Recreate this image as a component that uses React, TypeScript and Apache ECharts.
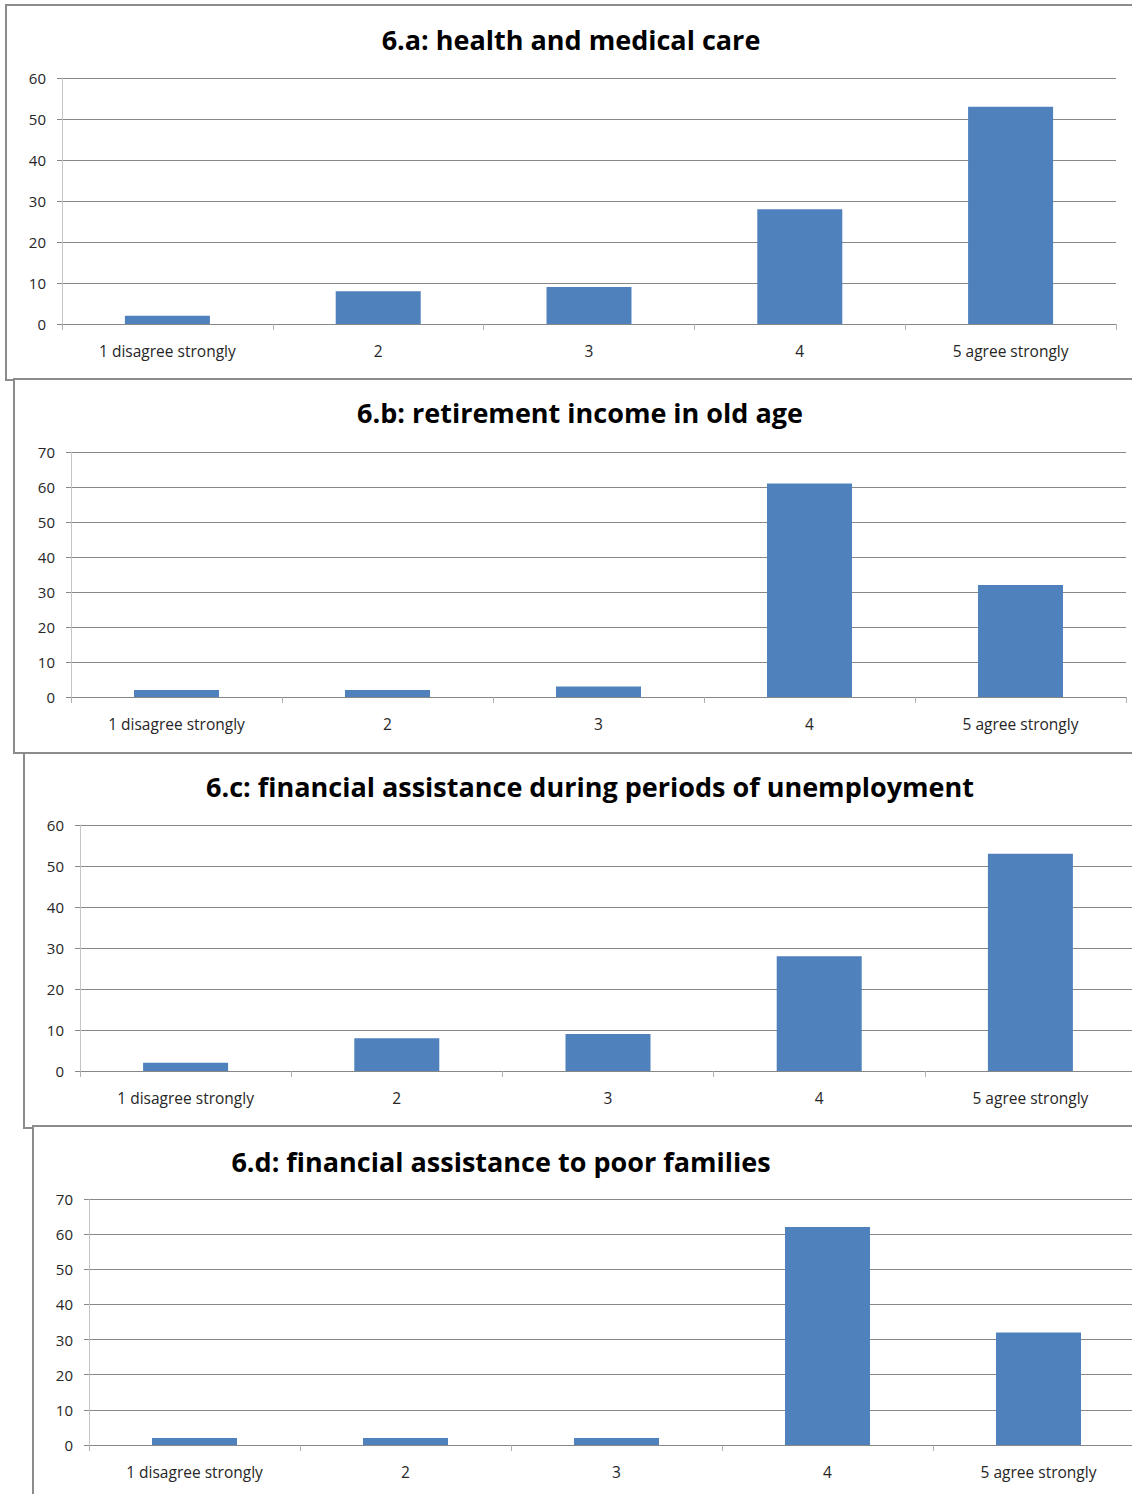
import React, { useEffect, useRef } from "react";
import * as echarts from "echarts";

const categories = ["1 disagree strongly", "2", "3", "4", "5 agree strongly"];
const healthValues = [2, 8, 9, 28, 53];
const retirementValues = [2, 2, 3, 61, 32];
const unemploymentValues = [2, 8, 9, 28, 53];
const poorFamiliesValues = [2, 2, 2, 62, 32];
const titles = [
  "6.a: health and medical care",
  "6.b: retirement income in old age",
  "6.c: financial assistance during periods of unemployment",
  "6.d: financial assistance to poor families",
];
const yMaxes = [60, 70, 60, 70];
const yInterval = 10;

const seriesValues = [healthValues, retirementValues, unemploymentValues, poorFamiliesValues];

// layout (pixels)
const grids = [
  { left: 62, top: 78, width: 1054, height: 246 },
  { left: 71, top: 452, width: 1055, height: 245 },
  { left: 80, top: 825, width: 1056, height: 246 },
  { left: 89, top: 1199, width: 1055, height: 246 },
];
const panels = [
  { x: 6, y: 5, w: 1200, h: 375 },
  { x: 14, y: 379, w: 1200, h: 374 },
  { x: 24, y: 753, w: 1200, h: 375 },
  { x: 33, y: 1126, w: 1200, h: 420 },
];
const titlePos = [
  { x: 571, y: 39 },
  { x: 580, y: 412 },
  { x: 590, y: 786 },
  { x: 501, y: 1161 },
];

const FONT = "'Open Sans', Lato, sans-serif";
const GRID_COLOR = "#878787";

export default function App() {
  const ref = useRef<HTMLDivElement>(null);
  useEffect(() => {
    if (!ref.current) return;
    const chart = echarts.init(ref.current, undefined, { renderer: "svg" });
    const graphic: any[] = [];
    panels.forEach((p, i) => {
      graphic.push({
        type: "rect",
        z: -10 + i,
        shape: { x: p.x, y: p.y, width: p.w, height: p.h },
        style: { fill: "#ffffff", stroke: "#8c8c8c", lineWidth: 2 },
      });
    });
    titles.forEach((t, i) => {
      graphic.push({
        type: "text",
        z: 10,
        x: titlePos[i].x,
        y: titlePos[i].y,
        style: {
          text: t,
          font: `bold 27px ${FONT}`,
          fill: "#000000",
          align: "center",
          verticalAlign: "middle",
        },
      });
    });
    const option: any = {
      animation: false,
      backgroundColor: "#ffffff",
      grid: grids.map((g) => ({ ...g, containLabel: false })),
      xAxis: grids.map((_, i) => ({
        type: "category",
        gridIndex: i,
        data: categories,
        axisLine: { show: true, lineStyle: { color: GRID_COLOR, width: 1 } },
        axisTick: { show: true, length: 6, lineStyle: { color: "#b0b0b0" } },
        axisLabel: { color: "#262626", fontFamily: FONT, fontSize: 15.5, margin: 19, interval: 0 },
        splitLine: { show: false },
      })),
      yAxis: grids.map((_, i) => ({
        type: "value",
        gridIndex: i,
        min: 0,
        max: yMaxes[i],
        interval: yInterval,
        axisLine: { show: true, lineStyle: { color: "#c4c4c4", width: 1 } },
        axisTick: { show: true, length: 5, lineStyle: { color: GRID_COLOR } },
        axisLabel: { color: "#262626", fontFamily: FONT, fontSize: 15, margin: 16 },
        splitLine: { show: true, lineStyle: { color: GRID_COLOR, width: 1 } },
      })),
      series: seriesValues.map((vals, i) => ({
        type: "bar",
        xAxisIndex: i,
        yAxisIndex: i,
        data: vals,
        barWidth: 85,
        itemStyle: { color: "#4f81bd" },
      })),
      graphic,
    };
    chart.setOption(option);
    return () => chart.dispose();
  }, []);
  return (
    <div style={{ position: "absolute", left: 0, top: 0, width: 1132, height: 1494, overflow: "hidden", background: "#fff" }}>
      <div ref={ref} style={{ width: 1170, height: 1494 }} />
    </div>
  );
}
